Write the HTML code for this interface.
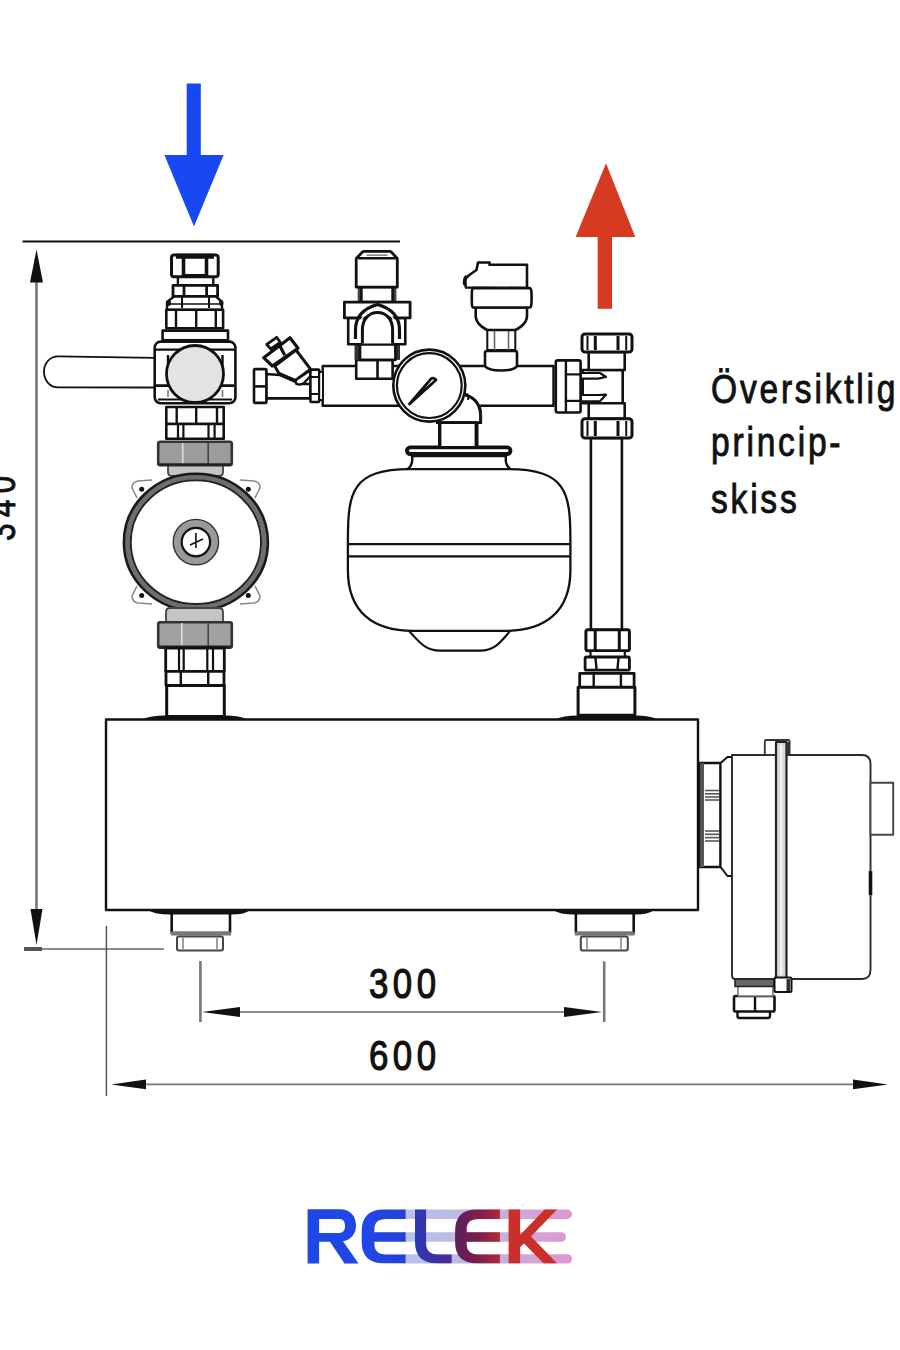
<!DOCTYPE html>
<html><head><meta charset="utf-8">
<style>
html,body{margin:0;padding:0;background:#fff;width:900px;height:1350px;overflow:hidden;}
svg{display:block;position:absolute;left:0;top:0;}
.t{font-family:"Liberation Sans",sans-serif;fill:#111;}
</style></head><body>
<svg width="900" height="1350" viewBox="0 0 900 1350">
<rect x="0" y="0" width="900" height="1350" fill="#fff"/>

<!-- ARROWS -->
<polygon points="186.7,83.6 200.8,83.6 200.8,155 223.6,155 194,226.5 164.4,155 186.7,155" fill="#1748f2"/>
<polygon points="606,163.3 635.3,237 612,237 612,308.7 597.7,308.7 597.7,237 575.6,237" fill="#d63a20"/>

<!-- DIMENSIONS -->
<g id="dims">
<line x1="22.5" y1="241.5" x2="400" y2="241.5" stroke="#111" stroke-width="2.2"/>
<line x1="36.5" y1="275" x2="36.5" y2="915" stroke="#777" stroke-width="2.6"/>
<polygon points="36.5,249.6 43,282.6 30,282.6" fill="#111"/>
<polygon points="36.5,945 42.5,909 30.5,909" fill="#111"/>
<line x1="24" y1="949" x2="164" y2="949" stroke="#666" stroke-width="1.6"/>
<rect x="24" y="947" width="18" height="4" fill="#555"/>
<line x1="106.4" y1="926" x2="106.4" y2="1096" stroke="#555" stroke-width="1.5"/>
<line x1="200.4" y1="961" x2="200.4" y2="1022" stroke="#777" stroke-width="2.6"/>
<line x1="604.2" y1="961.4" x2="604.2" y2="1022" stroke="#777" stroke-width="2.6"/>
<line x1="235" y1="1012" x2="570" y2="1012" stroke="#888" stroke-width="2"/>
<polygon points="202,1012 240,1007 240,1017" fill="#111"/>
<polygon points="602,1012 564,1007 564,1017" fill="#111"/>
<line x1="140" y1="1084.4" x2="860" y2="1084.4" stroke="#777" stroke-width="1.8"/>
<polygon points="111,1084.4 146,1079.5 146,1089.3" fill="#111"/>
<polygon points="888,1084.4 853,1079.5 853,1089.3" fill="#111"/>
</g>

<!-- TEXTS -->
<g class="t" stroke="#111" stroke-width="0.9">
<text stroke-width="1.2" font-size="43" letter-spacing="5.5" transform="translate(369 997.5) scale(0.81 1)">300</text>
<text stroke-width="1.2" font-size="43" letter-spacing="5.5" transform="translate(369 1070.3) scale(0.81 1)">600</text>
<text stroke-width="0.9" font-size="38" letter-spacing="7.9" transform="translate(15 540.8) rotate(-90) scale(0.82 1)">340</text>
<text font-size="40" letter-spacing="3.3" transform="translate(711 403) scale(0.84 1)">Översiktlig</text>
<text font-size="40" letter-spacing="3.3" transform="translate(711 456) scale(0.84 1)">princip-</text>
<text font-size="40" letter-spacing="3.3" transform="translate(711 513) scale(0.84 1)">skiss</text>
</g>

<!-- ===== CENTER: pipe, tank, gauge ===== -->
<g fill="#fff" stroke="#111" stroke-width="2.4" stroke-linejoin="round">
  <!-- tank -->
  <rect x="439.2" y="424" width="38.1" height="22" />
  <path d="M412,456 C413,462 412,466 407,469.5 L511,469.5 C506,466 505,462 506,456 Z" stroke-width="2.4"/>
  <rect x="405" y="445.6" width="107.4" height="10.4" rx="5.2" fill="#111" stroke="none"/>
  <rect x="409" y="449.3" width="99.5" height="2.6" rx="1.3" fill="#fff" stroke="none"/>
  <path d="M408,630 C418,640 424,650.6 440,650.6 L480,650.6 C496,650.6 502,640 511,630" stroke-width="2.2"/>
  <path d="M410,469.2 L508,469.2 C566,469.2 570.4,492 570.4,540 L570.4,570 C570.4,612 545,630.9 505,630.9 L413,630.9 C373,630.9 347.9,612 347.9,570 L347.9,540 C347.9,492 352,469.2 410,469.2 Z" stroke-width="2.3"/>
  <line x1="348.5" y1="544.2" x2="569.8" y2="544.2" stroke-width="2.2"/>
  <line x1="348.5" y1="556.4" x2="569.8" y2="556.4" stroke-width="2.2"/>
  <!-- gauge stem -->
  <path d="M462,393 C472,395 481,402 481,415 V422.7" />
  <!-- horizontal pipe -->
  <path d="M322.7,366 H553.5 V405.8 H322.7 Z" />
  <path d="M455,396 C470,396 482,404 482,418 V423 H440 V400 Z" stroke="none"/>
  <path d="M461,394 C474,396 480.5,404 480.5,416 V423.5" fill="none" stroke-width="2.8"/>
  <path d="M463,395 Q470,392 468,400" fill="none" stroke-width="2"/>
  <path d="M440,446 V422.7 H476 V446" fill="#fff" stroke-width="2.8"/>
  <line x1="436" y1="422.7" x2="482" y2="422.7" stroke-width="2.8"/>
  <!-- gauge -->
  <circle cx="429.3" cy="385.6" r="36" stroke-width="2.6"/>
  <circle cx="429.3" cy="385.6" r="32.4" stroke-width="2.2"/>
  <path d="M409.5,404 L431,378.8 Q433.5,377 436,380 Z" stroke-width="2.8" fill="#fff"/>
</g>
<!-- ===== safety valve ===== -->
<g fill="#fff" stroke="#111" stroke-width="2.6" stroke-linejoin="round">
  <rect x="356.2" y="360" width="36.4" height="18.8"/>
  <line x1="377.5" y1="360" x2="377.5" y2="378.8"/>
  <rect x="354.5" y="344.3" width="45.5" height="15.6" stroke="none" fill="#333"/>
  <rect x="360" y="344.3" width="35.4" height="15.6"/>
  <rect x="357.7" y="287" width="38.7" height="15" stroke="none" fill="#444"/>
  <rect x="361.4" y="287" width="31.2" height="15"/>
  <path d="M356.2,258.5 L362.5,252 Q363.3,251.3 364.5,251.3 H389.5 Q390.7,251.3 391.3,252 L397.3,258.5 V287.2 H356.2 Z" stroke-width="2.8"/>
  <line x1="358" y1="258.3" x2="396" y2="258.3" stroke-width="2.6"/>
  <line x1="366.5" y1="255.2" x2="387.5" y2="255.2" stroke-width="1.6" stroke="#888"/>
  <rect x="348.2" y="318" width="57.1" height="26.3"/>
  <rect x="344.4" y="302.1" width="65.7" height="15.8" stroke-width="2.8"/>
  <path d="M355.5,339 V330 C355.5,316 365,308 377.5,304.5 C390,308 399.5,316 399.5,330 V339" fill="none" stroke-width="3.2"/>
  <path d="M358.8,337 V330 C358.8,319 366,311 377.5,308.2 C389,311 396.2,319 396.2,330 V337" fill="none" stroke="#fff" stroke-width="1.3"/>
  <path d="M362.4,343.5 V330 C362.4,319 369,312.5 377.5,312.5 C386,312.5 392.6,319 392.6,330 V343.5" fill="#fff" stroke-width="3"/>
</g>

<!-- ===== air vent ===== -->
<g fill="#fff" stroke="#111" stroke-width="2.6" stroke-linejoin="round">
  <path d="M485,366 V353 Q485,351 487,351 H515 Q517,351 517,353 V366 C513,372 489,372 485,366 Z"/>
  <rect x="487.3" y="330" width="28" height="20" stroke-width="2"/>
  <line x1="494.5" y1="330" x2="494.5" y2="350" stroke-width="1.6" stroke="#666"/>
  <line x1="508.5" y1="330" x2="508.5" y2="350" stroke-width="1.6" stroke="#666"/>
  <path d="M475.7,307.5 V316 C475.7,325 487.3,330 487.3,330 H515.3 C515.3,330 527,325 527,316 V307.5 Z"/>
  <path d="M466,287.5 Q464,281 466.5,277.5 Q471,273.5 476.5,270 L478,262.5 H489.5 V264.8 H527 V288.1 Z" stroke-width="2.6"/>
  <path d="M465,285 Q463.5,279 467,276" fill="none" stroke-width="3.6"/>
  <path d="M473.5,288.1 H529.5 C531.5,288.1 531.6,292 531.6,298 C531.6,304 531.5,307.5 529.5,307.5 H473.5 C471.8,307.5 471.8,304 471.8,298 C471.8,292 471.8,288.1 473.5,288.1 Z"/>
</g>

<!-- ===== strainer ===== -->
<g fill="#fff" stroke="#111" stroke-width="2.6" stroke-linejoin="round">
  <path d="M266,374 L280,375 L296,382 L302,384 H310.4 V398.4 H266 Z"/>
  <rect x="254" y="369.1" width="12.4" height="33.8" rx="1"/>
  <line x1="254" y1="386.4" x2="266.4" y2="386.4"/>
  <path d="M274.7,366 L279,373.5 L295.3,380.5 L310.7,369.3 L296,350 Z" stroke-width="3"/>
  <path d="M295.3,380.5 L308.5,371.5 Q311.5,372.5 310,376.5 L304,383 Q300,385.5 296.5,384 Z" stroke-width="2.4"/>
  <path d="M263.7,357.7 L290,337.7 L298,348.3 L272.3,366 Z" stroke-width="3.2"/>
  <line x1="279.3" y1="344.7" x2="284.7" y2="355.3" stroke-width="3.2"/>
  <path d="M266.7,344.3 L276.7,337.3 L280.3,342.3 L270.7,349 Z" stroke-width="2.8"/>
  <rect x="310.4" y="369.6" width="8.9" height="32.4" rx="1"/>
  <line x1="310.4" y1="377" x2="319.3" y2="377" stroke-width="2"/>
  <line x1="310.4" y1="394" x2="319.3" y2="394" stroke-width="2"/>
  <rect x="319.3" y="372" width="3.6" height="28" stroke-width="1.8"/>
</g>

<!-- ===== right riser ===== -->
<g fill="#fff" stroke="#111" stroke-width="2.6" stroke-linejoin="round">
  <rect x="590.9" y="438" width="31" height="192" stroke-width="2.6"/>
  <rect x="555.8" y="360.4" width="24.8" height="52.1" rx="2"/>
  <line x1="565.9" y1="360.4" x2="565.9" y2="412.5" stroke-width="2.4"/>
  <line x1="565.9" y1="374.4" x2="580.6" y2="374.4" stroke-width="2.2"/>
  <line x1="565.9" y1="400.9" x2="580.6" y2="400.9" stroke-width="2.2"/>
  <rect x="582.7" y="370" width="40" height="33.3"/>
  <path d="M582,373 H600 L606,377 L598,378.7 H582 M582,395 H598 L606,394.7 L600,401.3 H582" fill="#fff" stroke-width="2.2"/>
  <rect x="588.7" y="352" width="36" height="18"/>
  <rect x="588.7" y="403.3" width="36" height="15.4"/>
  <rect x="582" y="334" width="50" height="18" rx="3" stroke-width="3"/>
  <line x1="587.5" y1="336" x2="587.5" y2="350" stroke-width="2"/>
  <line x1="595.3" y1="336" x2="595.3" y2="350" stroke-width="3"/>
  <line x1="618" y1="336" x2="618" y2="350" stroke-width="3"/>
  <line x1="626.2" y1="336" x2="626.2" y2="350" stroke-width="2"/>
  <rect x="582" y="418.7" width="50" height="19.3" rx="3" stroke-width="3"/>
  <line x1="587.5" y1="421" x2="587.5" y2="436" stroke-width="2"/>
  <line x1="595.3" y1="421" x2="595.3" y2="436" stroke-width="3"/>
  <line x1="618" y1="421" x2="618" y2="436" stroke-width="3"/>
  <line x1="626.2" y1="421" x2="626.2" y2="436" stroke-width="2"/>
  <!-- lower -->
  <rect x="585.9" y="629.8" width="43.5" height="21" rx="2" stroke-width="3"/>
  <line x1="595.2" y1="631" x2="595.2" y2="650" stroke-width="3"/>
  <line x1="619.3" y1="631" x2="619.3" y2="650" stroke-width="3"/>
  <rect x="590.5" y="651" width="34.3" height="6" stroke-width="2.2"/>
  <rect x="585.1" y="657" width="44.3" height="13.2" rx="1.5" stroke-width="2.8"/>
  <line x1="595.5" y1="658" x2="596.5" y2="669" stroke-width="2.4"/>
  <line x1="618.5" y1="658" x2="617.5" y2="669" stroke-width="2.4"/>
  <rect x="579.7" y="673.3" width="54.4" height="14" stroke-width="2.8"/>
  <line x1="593.7" y1="674" x2="593.7" y2="687" stroke-width="2.4"/>
  <line x1="620.9" y1="674" x2="620.9" y2="687" stroke-width="2.4"/>
  <rect x="578.1" y="687.3" width="56.8" height="28" stroke-width="3"/>
</g>
<!-- ===== left valve + pump ===== -->
<g fill="#fff" stroke="#111" stroke-width="2.6" stroke-linejoin="round">
  <!-- handle -->
  <path d="M155,357.9 L58,356.3 C50,356.3 44,363 44,371.8 C44,380.5 50,387.4 58,387.4 L155,387.5" stroke-width="1.8"/>
  <!-- top nut -->
  <rect x="177.9" y="276.8" width="35.4" height="8.5" stroke-width="2.4"/>
  <rect x="171.5" y="255" width="46.7" height="21.8" rx="2.5" stroke-width="3"/>
  <line x1="176" y1="256.2" x2="214" y2="256.2" stroke-width="5"/>
  <line x1="183.5" y1="257" x2="183.5" y2="276" stroke-width="3.6"/>
  <line x1="206.5" y1="257" x2="206.5" y2="276" stroke-width="3.6"/>
  <line x1="185" y1="275" x2="205" y2="275" stroke-width="2"/>
  <rect x="173" y="285.3" width="44.6" height="11" stroke-width="2.8"/>
  <line x1="184" y1="286" x2="184" y2="296" stroke-width="2.8"/>
  <line x1="206.6" y1="286" x2="206.6" y2="296" stroke-width="2.8"/>
  <path d="M174,296.5 H216 L222,302 V310 H167 V302 Z" stroke-width="2.4"/>
  <line x1="182" y1="297" x2="182" y2="308" stroke-width="2"/>
  <line x1="209" y1="297" x2="209" y2="308" stroke-width="2"/>
  <line x1="168" y1="304" x2="221" y2="304" stroke-width="1.6"/>
  <ellipse cx="168.8" cy="303" rx="2.2" ry="3" fill="#111" stroke="none"/>
  <ellipse cx="221.2" cy="303" rx="2.2" ry="3" fill="#111" stroke="none"/>
  <rect x="166.3" y="309.8" width="56.8" height="18.5" stroke-width="2.6"/>
  <line x1="176" y1="310" x2="176" y2="328" stroke-width="2.4"/>
  <line x1="196.2" y1="310" x2="196.2" y2="328" stroke-width="2.4"/>
  <line x1="215.8" y1="310" x2="215.8" y2="328" stroke-width="2.4"/>
  <rect x="162.6" y="330.6" width="65.4" height="9.8" stroke-width="2.6"/>
  <!-- valve body -->
  <rect x="154.7" y="341.6" width="80.7" height="61.7" rx="6" stroke-width="2.6"/>
  <line x1="156" y1="349.6" x2="234" y2="349.6" stroke-width="2.4"/>
  <line x1="156" y1="385.6" x2="234" y2="385.6" stroke-width="2.6"/>
  <line x1="158" y1="399.5" x2="232" y2="399.5" stroke-width="2"/>
  <path d="M168,355 V380 M222.5,355 V380" stroke-width="2.4" fill="none"/>
  <path d="M168,390 V397 M222.5,390 V397" stroke-width="1.6" stroke="#777" fill="none"/>
  <circle cx="195" cy="374" r="28.5" fill="#e3e3e3" stroke-width="2.8"/>
  <!-- lower fittings -->
  <rect x="166.3" y="407" width="57.4" height="17" stroke-width="2.6"/>
  <line x1="176.7" y1="407" x2="176.7" y2="424" stroke-width="2.4"/>
  <line x1="196.2" y1="407" x2="196.2" y2="424" stroke-width="2.4"/>
  <line x1="217" y1="407" x2="217" y2="424" stroke-width="2.4"/>
  <rect x="166.3" y="424" width="57.4" height="14.8" stroke-width="2.6"/>
  <line x1="178" y1="424" x2="178" y2="438.8" stroke-width="2.2"/>
  <line x1="183.4" y1="424" x2="183.4" y2="438.8" stroke-width="2.2"/>
  <line x1="208.5" y1="424" x2="208.5" y2="438.8" stroke-width="2.2"/>
  <line x1="214.6" y1="424" x2="214.6" y2="438.8" stroke-width="2.2"/>
  <!-- union nuts (gray) -->
  <path d="M168,462 V472 Q168,476 172,476 H219 Q223,476 223,472 V462 Z" fill="#c4c4c4" stroke="#444" stroke-width="1.8"/>
  <rect x="158.2" y="441.7" width="73.6" height="23.6" rx="2" fill="#9c9c9c" stroke="#333" stroke-width="2.6"/>
  <line x1="182.7" y1="443" x2="182.7" y2="464" stroke="#ddd" stroke-width="1.6"/>
  <line x1="208.2" y1="443" x2="208.2" y2="464" stroke="#444" stroke-width="1.6"/>
  <line x1="159" y1="464.5" x2="231" y2="464.5" stroke="#222" stroke-width="2.4"/>
  <!-- pump -->
  <g stroke="#888" stroke-width="1.6" fill="none">
    <path d="M137,498 L132,488 Q132,482 138,481 L152,480"/>
    <path d="M255,498 L260,488 Q260,482 254,481 L240,480"/>
    <path d="M137,586 L132,596 Q132,602 138,603 L152,604"/>
    <path d="M255,586 L260,596 Q260,602 254,603 L240,604"/>
  </g>
  <g fill="#111" stroke="none">
    <circle cx="141.7" cy="489.3" r="2.5"/><circle cx="248.3" cy="489.3" r="2.5"/>
    <circle cx="141.7" cy="595.5" r="2.5"/><circle cx="248.3" cy="595.5" r="2.5"/>
  </g>
  <ellipse cx="195.9" cy="542.2" rx="68.6" ry="65.2" fill="none" stroke="#6e6e6e" stroke-width="5"/>
  <ellipse cx="195.9" cy="542.2" rx="72" ry="68.5" fill="none" stroke="#1a1a1a" stroke-width="2.6"/>
  <ellipse cx="195.9" cy="542.2" rx="65.2" ry="61.9" fill="none" stroke="#222" stroke-width="2"/>
  <circle cx="195.9" cy="542.1" r="22.7" fill="#9a9a9a" stroke="#333" stroke-width="1.4"/>
  <circle cx="195.9" cy="542.1" r="14.2" fill="#fff" stroke="#111" stroke-width="2.2"/>
  <path d="M195.9,533 V548 M190,545 L203,539" stroke="#111" stroke-width="1.6"/>
  <!-- lower gray -->
  <path d="M166,622 V612 Q166,608 170,608 H219 Q223,608 223,612 V622 Z" fill="#c4c4c4" stroke="#444" stroke-width="1.8"/>
  <rect x="158.2" y="622.3" width="73.6" height="25.5" rx="2" fill="#a0a0a0" stroke="#333" stroke-width="2.6"/>
  <line x1="181.8" y1="623" x2="181.8" y2="647" stroke="#ddd" stroke-width="1.6"/>
  <line x1="208.2" y1="623" x2="208.2" y2="647" stroke="#444" stroke-width="1.6"/>
  <line x1="159" y1="647" x2="231" y2="647" stroke="#222" stroke-width="2.8"/>
  <rect x="165.7" y="648" width="58.6" height="23.4" stroke-width="2.8"/>
  <line x1="179" y1="649" x2="179" y2="671" stroke-width="2.2"/>
  <line x1="183.7" y1="649" x2="183.7" y2="671" stroke-width="2.2"/>
  <line x1="207.3" y1="649" x2="207.3" y2="671" stroke-width="2.2"/>
  <line x1="213" y1="649" x2="213" y2="671" stroke-width="2.2"/>
  <rect x="166" y="671.4" width="58" height="14.2" stroke-width="2.8"/>
  <line x1="180.8" y1="672" x2="180.8" y2="685" stroke-width="2.4"/>
  <line x1="208.2" y1="672" x2="208.2" y2="685" stroke-width="2.4"/>
  <rect x="166.7" y="685.6" width="57.6" height="31" stroke-width="3"/>
</g>
<!-- MAIN BOX -->
<g fill="#fff" stroke="#111" stroke-linejoin="round">
  <!-- bottom fittings -->
  <rect x="171.7" y="912" width="58.3" height="21" stroke-width="2.6"/>
  <rect x="171" y="931.5" width="60" height="4" fill="#777" stroke="none"/>
  <rect x="177" y="936.5" width="46" height="14" rx="2" stroke="#444" stroke-width="2"/>
  <line x1="183" y1="938" x2="183" y2="949" stroke="#888" stroke-width="1.6"/>
  <line x1="217" y1="938" x2="217" y2="949" stroke="#888" stroke-width="1.6"/>
  <rect x="575.9" y="912" width="57.8" height="21" stroke-width="2.6"/>
  <rect x="575" y="931.5" width="59.5" height="4" fill="#777" stroke="none"/>
  <rect x="580.8" y="936.5" width="47" height="14" rx="2" stroke="#444" stroke-width="2"/>
  <line x1="587" y1="938" x2="587" y2="949" stroke="#888" stroke-width="1.6"/>
  <line x1="621" y1="938" x2="621" y2="949" stroke="#888" stroke-width="1.6"/>
  <rect x="106" y="719.5" width="592" height="190.5" stroke-width="2.4"/>
  <!-- flares -->
  <path d="M142,719.5 Q150,715.5 166,715.5 H225 Q240,715.5 247,719.5 Z" fill="#111" stroke="none"/>
  <path d="M555,719.5 Q563,715.5 578,715.5 H635 Q650,715.5 658,719.5 Z" fill="#111" stroke="none"/>
  <path d="M148,910 Q155,914.5 170,914.5 H232 Q245,914.5 250,910 Z" fill="#111" stroke="none"/>
  <path d="M553,910 Q560,914.5 574,914.5 H636 Q648,914.5 654,910 Z" fill="#111" stroke="none"/>
</g>

<!-- ===== side enclosure ===== -->
<g fill="#fff" stroke="#111" stroke-linejoin="round">
  <!-- cable gland bottom -->
  <rect x="737.5" y="1009" width="32.5" height="9" rx="2" stroke-width="2.4"/>
  <rect x="734" y="996" width="40.5" height="15.5" rx="1.5" stroke-width="2.6"/>
  <line x1="755" y1="996" x2="755" y2="1011" stroke-width="2.4"/>
  <rect x="738" y="986" width="35" height="10" stroke-width="1.6" stroke="#777"/>
  <rect x="735" y="977.5" width="39" height="9" fill="#666" stroke="#222" stroke-width="1.6"/>
  <!-- connector -->
  <rect x="699.8" y="763" width="20.8" height="104" stroke-width="2.6"/>
  <rect x="700" y="763" width="4" height="104" fill="#555" stroke="none"/>
  <g stroke="#555" stroke-width="1.6">
    <line x1="705" y1="790.5" x2="719" y2="790.5"/><line x1="705" y1="793.8" x2="719" y2="793.8"/>
    <line x1="705" y1="797" x2="719" y2="797"/><line x1="705" y1="800" x2="719" y2="800"/>
    <line x1="705" y1="831" x2="719" y2="831"/><line x1="705" y1="834.3" x2="719" y2="834.3"/>
    <line x1="705" y1="837.6" x2="719" y2="837.6"/><line x1="705" y1="841" x2="719" y2="841"/>
  </g>
  <path d="M720.6,763 L727.5,757 H732 V876 H727.5 L720.6,867 Z" stroke-width="2"/>
  <!-- enclosure body -->
  <path d="M732,755 H862 Q870.5,755 870.5,764 V970 Q870.5,979 862,979 H735 Q732,979 732,975 Z" stroke="#2a2a2a" stroke-width="1.9"/>
  <rect x="870.5" y="782.8" width="22.7" height="52" stroke="#444" stroke-width="1.9"/>
  <line x1="870.5" y1="871" x2="870.5" y2="895" stroke-width="3.6"/>
  <!-- cover strip -->
  <rect x="764.8" y="740" width="24.8" height="15" rx="1.5" stroke="#333" stroke-width="1.8"/>
  <rect x="776" y="742" width="10.5" height="236" fill="#d8d8d8" stroke="#222" stroke-width="2.2"/>
  <line x1="781.2" y1="745" x2="781.2" y2="975" stroke="#f4f4f4" stroke-width="2.4"/>
  <rect x="786.5" y="742" width="3" height="13" fill="#333" stroke="none"/>
  <rect x="774.5" y="977.5" width="17" height="14.5" rx="1.5" stroke-width="2"/>
  <rect x="786.5" y="979" width="3.5" height="12" fill="#333" stroke="none"/>
</g>

<!-- ===== LOGO ===== -->
<defs>
  <linearGradient id="gs" x1="405" y1="0" x2="572" y2="0" gradientUnits="userSpaceOnUse">
    <stop offset="0" stop-color="#b9c2ec"/><stop offset="0.5" stop-color="#bdb6e2"/><stop offset="0.7" stop-color="#cfa8da"/><stop offset="1" stop-color="#df96cf"/>
  </linearGradient>
  <linearGradient id="gl" x1="415" y1="0" x2="452" y2="0" gradientUnits="userSpaceOnUse">
    <stop offset="0" stop-color="#2c3ab8"/><stop offset="1" stop-color="#4a2a8c"/>
  </linearGradient>
  <linearGradient id="ge" x1="455" y1="0" x2="500" y2="0" gradientUnits="userSpaceOnUse">
    <stop offset="0" stop-color="#5b1f5f"/><stop offset="0.55" stop-color="#7e1f48"/><stop offset="1" stop-color="#b3283a"/>
  </linearGradient>
  <linearGradient id="gb" x1="361" y1="0" x2="406" y2="0" gradientUnits="userSpaceOnUse">
    <stop offset="0" stop-color="#1f48ea"/><stop offset="1" stop-color="#2540d6"/>
  </linearGradient>
</defs>
<g stroke="none">
  <rect x="400" y="1209.5" width="172" height="9.5" rx="4.75" fill="url(#gs)"/>
  <rect x="400" y="1232.2" width="166" height="9.5" rx="4.75" fill="url(#gs)"/>
  <rect x="400" y="1254.2" width="172" height="9.3" rx="4.65" fill="url(#gs)"/>
  <path fill="#1f47e8" fill-rule="evenodd" d="M307.6,1209.3 H340 C350.5,1209.3 356,1216.5 356,1225.5 C356,1233.5 351,1240 343,1241.3 L358.5,1263.6 H344.5 L330,1241.8 H319.1 V1263.6 H307.6 Z M319.1,1219.1 H339.5 C343.5,1219.1 345,1222.2 345,1226 C345,1229.8 343.5,1232.9 339.5,1232.9 H319.1 Z"/>
  <path fill="url(#gb)" d="M405.6,1209.4 H384 Q361.7,1209.4 361.7,1231 V1242 Q361.7,1263.3 384,1263.3 H405.6 V1254.4 H386 Q374.4,1254.4 374.4,1244 V1241.7 H405.6 V1232.2 H374.4 V1229 Q374.4,1218.9 386,1218.9 H405.6 Z"/>
  <path fill="url(#gl)" d="M415,1209.4 H426.1 V1243 Q426.1,1254.4 438,1254.4 H451.7 V1263.3 H437 Q415,1263.3 415,1242 Z"/>
  <path fill="url(#ge)" d="M499.9,1209.4 H477 Q455.1,1209.4 455.1,1231 V1242 Q455.1,1263.3 477,1263.3 H499.9 V1254.4 H478.5 Q466.7,1254.4 466.7,1244 V1241.7 H499.9 V1232.2 H466.7 V1229 Q466.7,1218.9 478.5,1218.9 H499.9 Z"/>
  <path fill="#cb2f29" d="M508.6,1209.4 H520.1 V1235 L544.7,1209.4 H557 L531,1236.5 L557,1263.3 H543.5 L524,1243.5 L520.1,1247 V1263.3 H508.6 Z"/>
</g>
</svg>
</body></html>
